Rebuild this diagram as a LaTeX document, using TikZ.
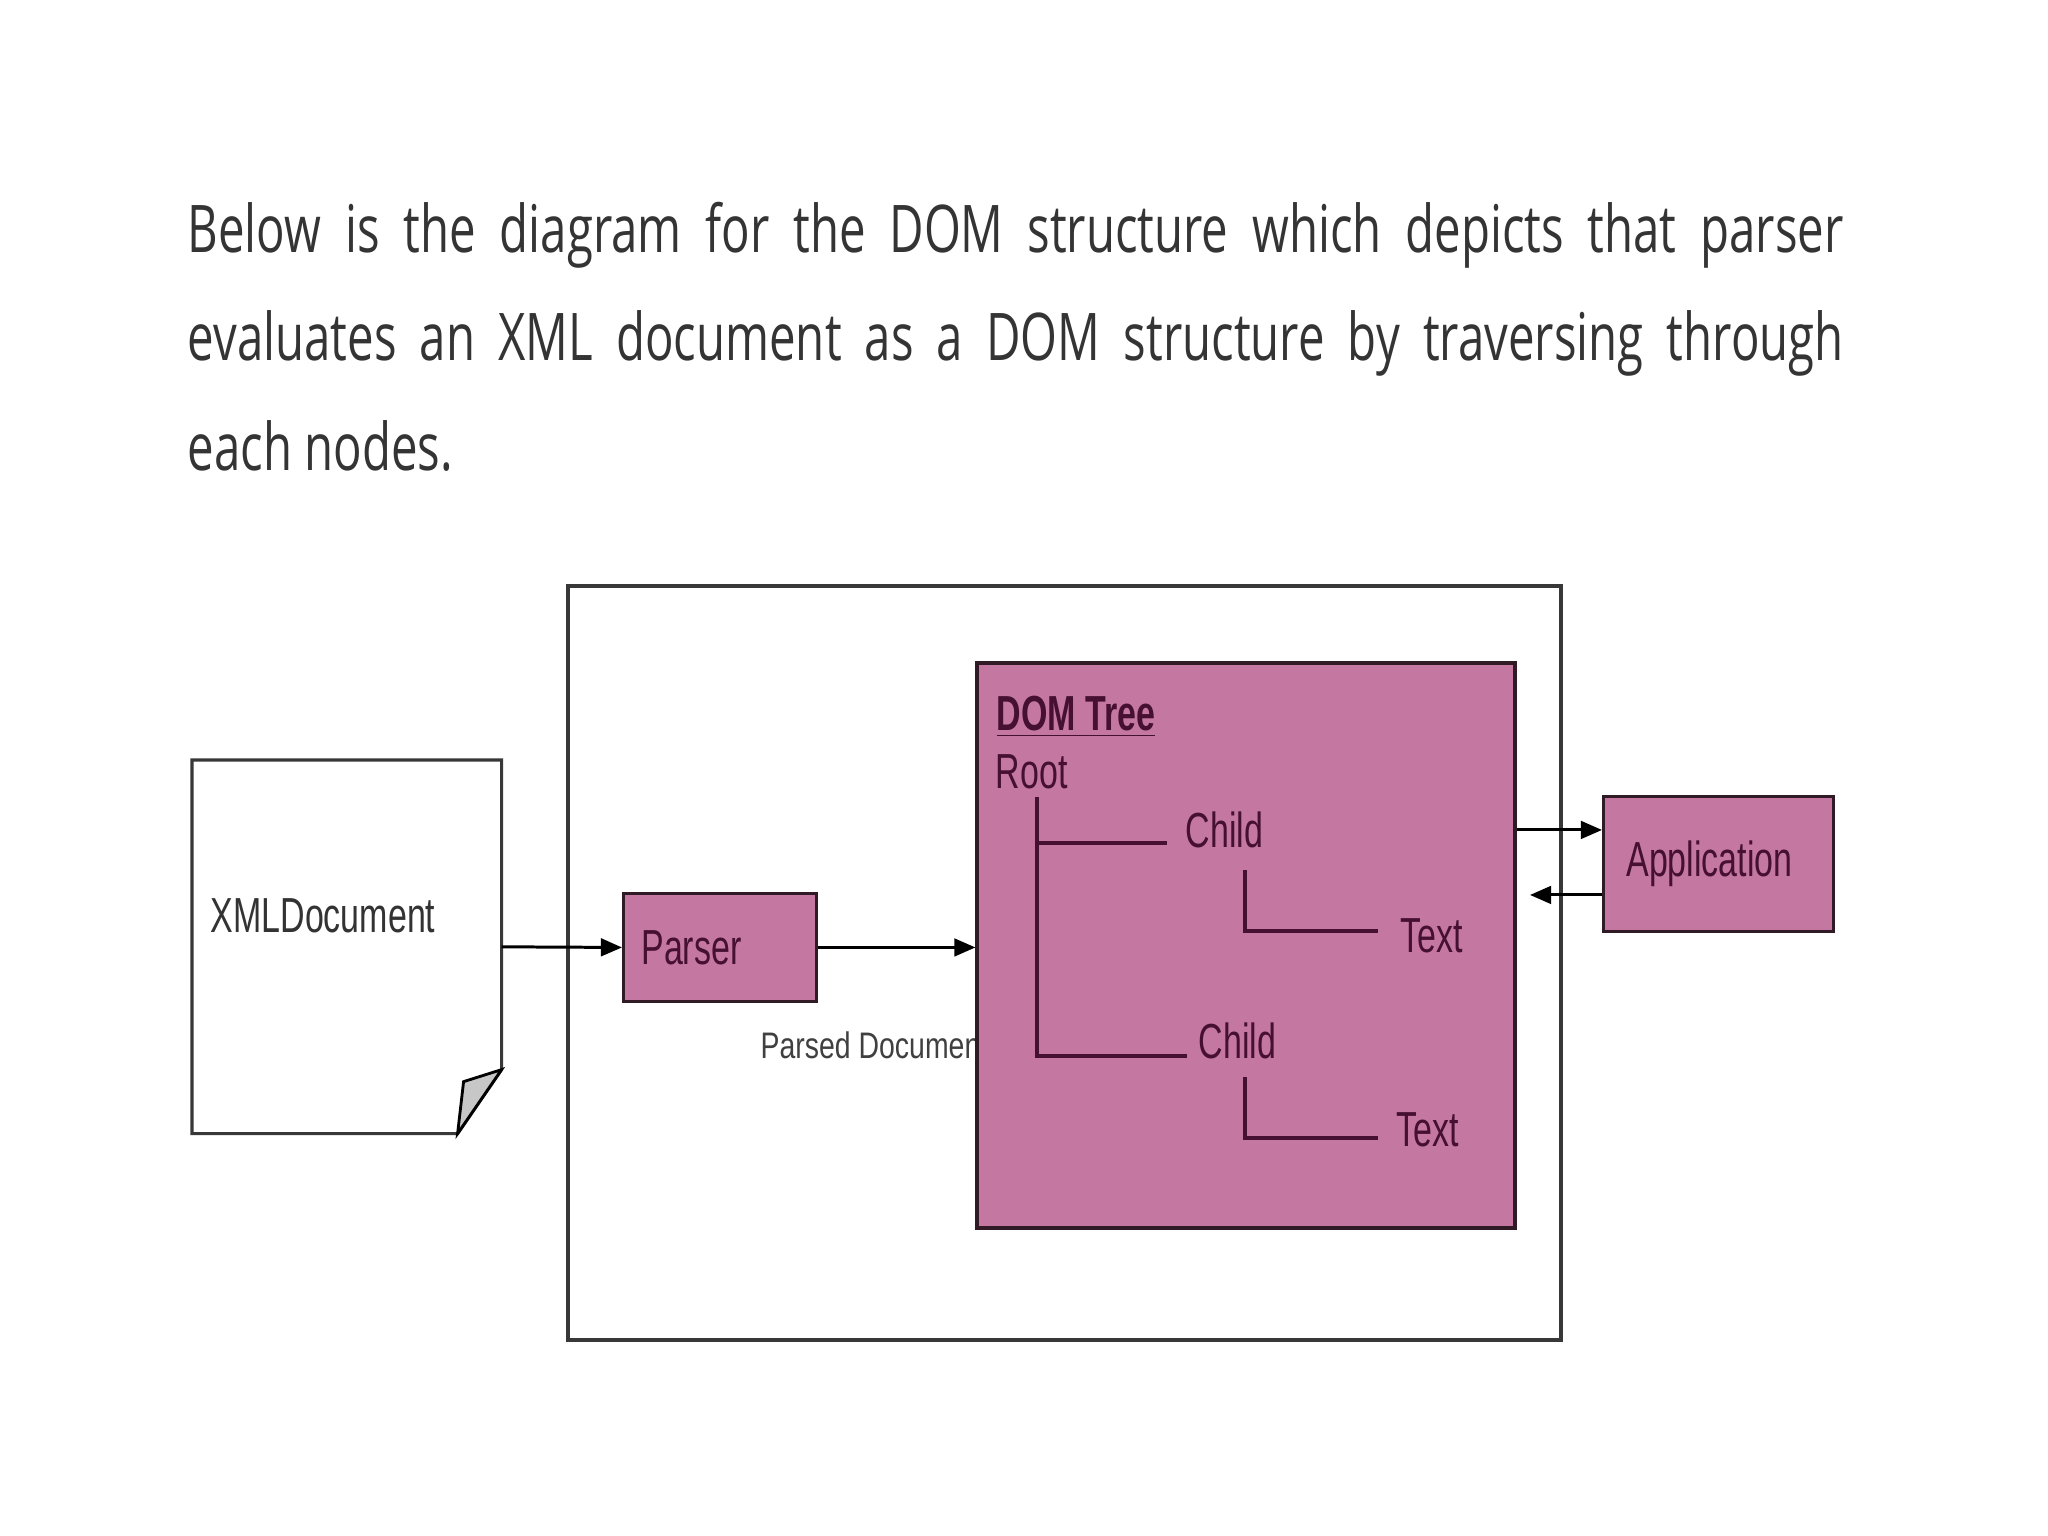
\documentclass[tikz,border=0pt]{standalone}
\usepackage{fontspec}
\usepackage{graphicx}
\usetikzlibrary{arrows.meta,positioning,fit}
\newfontfamily\diagfont{Liberation Sans}
\newfontfamily\bodyfont{Open Sans}
\definecolor{dompink}{RGB}{196,119,160}
\definecolor{domline}{RGB}{70,16,50}
\definecolor{domedge}{RGB}{48,26,38}
\definecolor{bodygray}{RGB}{52,52,52}
\newcommand{\squash}[1]{\scalebox{0.69}[1]{#1}}

\begin{document}
\begin{tikzpicture}[x=0.01cm,y=-0.01cm,every node/.style={inner sep=0pt},
  lbl/.style={font=\diagfont\fontsize{14}{16}\selectfont},
  pinkbox/.style={draw=domedge,line width=.8pt,fill=dompink,align=left,lbl,text=domline,anchor=north west},
  treelbl/.style={lbl,text=domline,anchor=base west},
  frame/.style={draw=black!78,line width=.9pt},
  arr/.style={line width=.85pt,-{Triangle[length=6pt,width=5pt]}},
  tree/.style={draw=domline,line width=.9pt},
  bodytext/.style={font=\bodyfont\fontsize{18.7}{22}\selectfont,text=bodygray,anchor=base west}]

\fill[white] (0,0) rectangle (2048,1536);
\useasboundingbox (0,0) rectangle (2048,1536);

% intro text
\node[bodytext] (line1) at (187,252) {\scalebox{0.72}[1]{\makebox[654pt][s]{Below is the diagram for the DOM structure which depicts that parser}}};
\node[bodytext] (line2) at (187,360) {\scalebox{0.72}[1]{\makebox[654pt][s]{evaluates an XML document as a DOM structure by traversing through}}};
\node[bodytext] (line3) at (187,470) {\scalebox{0.72}[1]{each nodes.}};

% outer frame
\node[frame,fit={(568,586) (1561,1340)}] (system) {};

% xml document with folded corner
\node[minimum width=3.08cm,minimum height=3.72cm,anchor=north west] (xmldoc) at (192,760) {};
\draw[frame,fill=white] (xmldoc.north west) -- (xmldoc.north east) -- ([shift={(0,-64)}]xmldoc.south east)
  -- ([shift={(-44,0)}]xmldoc.south east) -- (xmldoc.south west) -- cycle;
\draw[line width=.8pt,fill=black!22] ([shift={(0,-64)}]xmldoc.south east) -- ([shift={(-38,-52)}]xmldoc.south east)
  -- ([shift={(-44,0)}]xmldoc.south east) -- cycle;
\node[lbl,text=black!80,anchor=base west] (xmllbl) at (210,932) {\squash{XMLDocument}};

% parser
\node[pinkbox,minimum width=1.93cm,minimum height=1.08cm,text width=1.57cm,inner xsep=0.18cm] (parser) at (622,892) {\squash{Parser}};
\node[font=\diagfont\fontsize{10.5}{12}\selectfont,text=black!75,anchor=base west] (parsedlbl) at (760,1058) {\scalebox{0.77}[1]{Parsed Document}};

% dom tree
\node[draw=domedge,line width=.9pt,fill=dompink,fit={(977,663) (1515,1228)}] (dom) {};
\node[treelbl] (domtitle) at (996,730) {\squash{\underline{\textbf{DOM Tree}}}};
\node[treelbl] (root) at (995,788) {\squash{Root}};
\node[treelbl] (child1) at (1185,847) {\squash{Child}};
\node[treelbl] (text1) at (1400,952) {\squash{Text}};
\node[treelbl] (child2) at (1198,1058) {\squash{Child}};
\node[treelbl] (text2) at (1396,1146) {\squash{Text}};
\draw[tree] ([shift={(42,9)}]root.base west) |- ([shift={(-11,-2)}]child2.base west);
\draw[tree] ([shift={(42,55)}]root.base west) -- ([shift={(-18,-4)}]child1.base west);
\draw[tree] ([shift={(60,23)}]child1.base west) |- ([shift={(-22,-21)}]text1.base west);
\draw[tree] ([shift={(47,19)}]child2.base west) |- ([shift={(-18,-8)}]text2.base west);

% application
\node[pinkbox,minimum width=2.30cm,minimum height=1.35cm,text width=1.84cm,inner xsep=0.23cm] (app) at (1602,795) {\squash{Application}};

% arrows
\draw[arr] (xmldoc.east) -- (parser.west);
\draw[arr] (parser.east) -- (parser.east -| dom.west);
\coordinate (appin) at ([shift={(0,-34)}]app.west);
\coordinate (appout) at ([shift={(0,31)}]app.west);
\coordinate (ret) at (1530,0);
\draw[arr] (appin -| dom.east) -- (appin);
\draw[arr] (appout) -- (appout -| ret);
\end{tikzpicture}
\end{document}
